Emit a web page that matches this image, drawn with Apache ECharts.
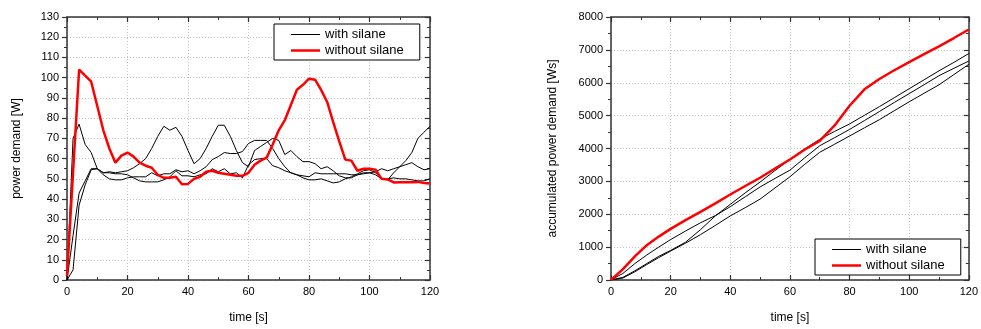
<!DOCTYPE html>
<html>
<head>
<meta charset="utf-8">
<script src="https://cdn.jsdelivr.net/npm/echarts@6/dist/echarts.min.js"></script>
<style>
  html, body { margin: 0; padding: 0; background: #fff; }
  #chart { width: 981px; height: 329px; }
</style>
</head>
<body>
<div id="chart"></div>
<script>
// left panel: power demand [W], sampled every 2 s
const timeP = [0,2,4,6,8,10,12,14,16,18,20,22,24,26,28,30,32,34,36,38,40,42,44,46,48,50,52,54,56,58,60,62,64,66,68,70,72,74,76,78,80,82,84,86,88,90,92,94,96,98,100,102,104,106,108,110,112,114,116,118,120];
const powerWith1 = [0,70,77,67,63,55,53,53.5,53,53.5,54,55.5,57.5,60,65,71,76,74,75.5,71,64,57.5,60,65,71,76.5,76.5,71,64,58,56,64,66,68,70,69,62,64,61,58.5,58.5,57.5,55,56,54,51.5,50.5,50.5,52,53,53,53.5,55,54,55,56,57,58,56,54.5,55];
const powerWith2 = [0,22,43,49,55,55,52,50,49.5,49.5,50.5,51,51,51,53,51.5,52.5,52.5,54.5,53.5,54,52.5,54,56,59.5,61,63,62.5,62.5,63.5,67.5,69,69,69,65,60,56,53,52,50.5,49.5,49.5,50,49,48,48.5,50,51,52.5,54,54.5,53,50,49.5,53,56,59,63,70,73,76];
const powerWith3 = [0,5,37,47,54.5,55,53,53,52.5,52.5,52,50.5,49,48.5,48.5,48.5,49.5,51,54,51.5,51.5,51,52,52.5,55,53.5,55,52.5,53,50.5,57,59.5,60,60,56.5,55.5,54,53,52,51.5,51,53,52.5,52.5,52.5,52.5,52.5,52,52,52.5,53,52,50,50,50.5,50,50,49.5,49,49,50];
const powerWithout = [2,53,104,101,98,86,74,65,58,61.5,63,61,58,56.5,55.5,52,50.5,50.5,51,47.3,47.5,50,51,53.5,54,53,52.5,52,51.5,51.5,53,57,59,60.5,67,74,79,86.5,94,96.5,99.5,99,94,88,78,68.5,59.5,59,54,55,55,54.5,50,49.7,48.2,48.3,48.3,48.3,48.5,48,47.7];

// right panel: accumulated power demand [Ws]
const timeA = [0,4,8,12,16,20,25,30,35,40,45,50,55,60,65,70,75,80,85,90,95,100,105,110,115,120];
const accWith1 = [0,200,500,760,1000,1230,1490,1740,1960,2230,2530,2830,3090,3340,3720,4083,4330,4579,4850,5124,5400,5669,5940,6214,6440,6660];
const accWith2 = [0,80,280,500,720,900,1150,1530,1950,2300,2650,2980,3330,3667,3990,4280,4520,4747,5010,5272,5545,5818,6090,6363,6620,6888];
const accWith3 = [0,60,250,470,680,880,1120,1380,1660,1950,2200,2460,2800,3140,3520,3885,4130,4380,4630,4876,5150,5421,5680,5937,6250,6561];
const accWithout = [0,330,720,1060,1320,1556,1820,2070,2330,2600,2860,3110,3390,3667,3970,4230,4700,5300,5800,6115,6380,6630,6870,7106,7360,7621];

const FONT = 'Liberation Sans, Arial, sans-serif';
const AXIS_COLOR = '#333';

const zip = (xs, ys) => xs.map((x, i) => [x, ys[i]]);

function frameAxis(idx, pos, min, max, interval, main, extra) {
  const ax = {
    type: 'value',
    gridIndex: idx,
    position: pos,
    min: min,
    max: max,
    interval: interval,
    axisLine: {show: true, onZero: false, lineStyle: {color: AXIS_COLOR, width: 1.5}},
    axisTick: {show: true, inside: true, length: 5, lineStyle: {color: AXIS_COLOR, width: 1.2}},
    minorTick: {show: true, splitNumber: 2, length: 3, lineStyle: {color: AXIS_COLOR, width: 1}},
    axisLabel: {show: main, color: '#000', fontFamily: FONT, fontSize: 11},
    splitLine: {show: main, lineStyle: {color: '#c4c4c4', type: [1, 2], width: 1}},
    minorSplitLine: {show: false}
  };
  return Object.assign(ax, extra || {});
}

function lineSeries(name, xs, ys, idx, red) {
  return {
    name: name,
    type: 'line',
    xAxisIndex: idx * 2,
    yAxisIndex: idx * 2,
    data: zip(xs, ys),
    showSymbol: false,
    symbol: 'none',
    z: red ? 3 : 2,
    lineStyle: {color: red ? '#ff0000' : '#000', width: red ? 2.5 : 1},
    itemStyle: {color: red ? '#ff0000' : '#000'}
  };
}

// plain line keys, no markers
function legendAt(left, top) {
  return {
    data: [
      {name: 'with silane', icon: 'path://M0,0 H29 V1 H0 Z'},
      {name: 'without silane', icon: 'path://M0,0 H29 V2.5 H0 Z'}
    ],
    left: left,
    top: top,
    orient: 'vertical',
    padding: [4, 16, 3, 17],
    itemGap: 3,
    itemWidth: 29,
    itemHeight: 14,
    symbolKeepAspect: true,
    borderColor: '#000',
    borderWidth: 1,
    backgroundColor: '#fff',
    textStyle: {color: '#000', fontFamily: FONT, fontSize: 13}
  };
}

const xName = {
  name: 'time [s]', nameLocation: 'middle', nameGap: 32,
  nameTextStyle: {color: '#000', fontFamily: FONT, fontSize: 12},
  axisLabel: {show: true, margin: 6, color: '#000', fontFamily: FONT, fontSize: 11}
};

const chart = echarts.init(document.getElementById('chart'));
chart.setOption({
  animation: false,
  backgroundColor: '#fff',
  textStyle: {fontFamily: FONT},
  grid: [
    {left: 67, top: 17, width: 363, height: 268},
    {left: 611, top: 17, width: 362, height: 269}
  ],
  xAxis: [
    frameAxis(0, 'bottom', 0, 120, 20, true, xName),
    frameAxis(0, 'top', 0, 120, 20, false),
    frameAxis(1, 'bottom', 0, 120, 20, true, xName),
    frameAxis(1, 'top', 0, 120, 20, false)
  ],
  yAxis: [
    frameAxis(0, 'left', 0, 130, 10, true, {
      name: 'power demand [W]', nameLocation: 'middle', nameGap: 44, nameRotate: 90,
      nameTextStyle: {color: '#000', fontFamily: FONT, fontSize: 12},
      axisTick: {show: true, inside: false, length: 5, lineStyle: {color: AXIS_COLOR, width: 1.2}},
      axisLabel: {show: true, margin: 8, color: '#000', fontFamily: FONT, fontSize: 11}
    }),
    frameAxis(0, 'right', 0, 130, 10, false),
    frameAxis(1, 'left', 0, 8000, 1000, true, {
      name: 'accumulated power demand [Ws]', nameLocation: 'middle', nameGap: 52, nameRotate: 90,
      nameTextStyle: {color: '#000', fontFamily: FONT, fontSize: 12},
      axisTick: {show: true, inside: false, length: 5, lineStyle: {color: AXIS_COLOR, width: 1.2}},
      axisLabel: {show: true, margin: 8, color: '#000', fontFamily: FONT, fontSize: 11, formatter: v => String(v)}
    }),
    frameAxis(1, 'right', 0, 8000, 1000, false)
  ],
  legend: [
    legendAt(274, 24),
    legendAt(815, 239)
  ],
  series: [
    lineSeries('with silane', timeP, powerWith1, 0, false),
    lineSeries('with silane', timeP, powerWith2, 0, false),
    lineSeries('with silane', timeP, powerWith3, 0, false),
    lineSeries('without silane', timeP, powerWithout, 0, true),
    lineSeries('with silane', timeA, accWith1, 1, false),
    lineSeries('with silane', timeA, accWith2, 1, false),
    lineSeries('with silane', timeA, accWith3, 1, false),
    lineSeries('without silane', timeA, accWithout, 1, true)
  ]
});
</script>
</body>
</html>
